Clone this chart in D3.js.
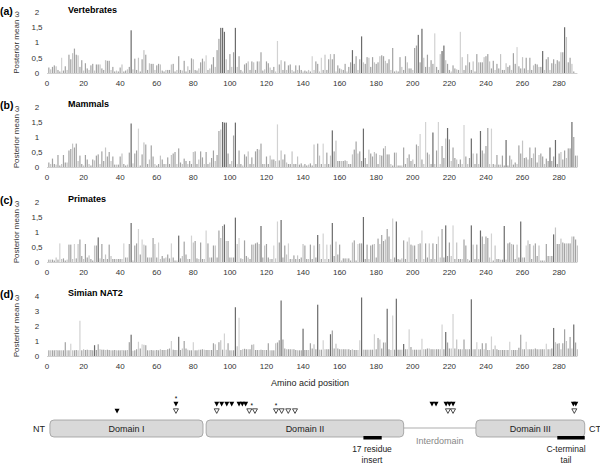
<!DOCTYPE html>
<html>
<head>
<meta charset="utf-8">
<script src="https://cdn.jsdelivr.net/npm/d3@7"></script>
<style>
  body { margin: 0; background: #fff; }
  text { font-family: Arial, "Liberation Sans", sans-serif; }
</style>
</head>
<body>
<div id="chart"></div>
<script>
// Posterior mean omega for amino acid positions 1..290, one list per lineage.
var vertebrates = [
  0.18, 0.12, 0.2, 0.25, 0.22, 0.1, 0.05, 0.5, 0.08, 0.22,
  0.1, 0.6, 0.45, 0.65, 0.8, 0.6, 0.58, 0.2, 0.42, 0.08,
  0.32, 0.15, 0.1, 0.25, 0.3, 0.08, 0.28, 0.28, 0.28, 0.15,
  0.1, 0.42, 0.4, 0.4, 0.1, 0.2, 0.05, 0.08, 0.05, 0.18,
  0.28, 0.05, 0.08, 0.12, 0.2, 1.4, 0.12, 0.47, 0.1, 0.5,
  0.05, 0.45, 0.75, 0.6, 0.1, 0.32, 0.3, 0.3, 0.1, 0.25,
  0.3, 0.28, 0.08, 0.05, 0.1, 0.1, 0.1, 0.28, 0.3, 0.05,
  0.1, 0.55, 0.1, 0.08, 0.4, 0.05, 0.22, 0.1, 0.48, 0.45,
  0.1, 0.08, 0.15, 0.35, 0.47, 0.38, 0.58, 0.1, 0.15, 0.28,
  0.52, 0.2, 0.75, 1.12, 1.48, 1.48, 1.35, 0.45, 0.1, 0.62,
  0.2, 0.68, 1.48, 0.2, 0.55, 0.1, 0.05, 0.28, 0.32, 0.38,
  0.1, 0.38, 0.35, 0.1, 0.38, 0.38, 0.68, 0.08, 0.12, 0.38,
  0.32, 0.18, 0.1, 0.2, 0.05, 1.05, 0.28, 0.42, 0.1, 0.38,
  0.1, 0.25, 0.28, 0.1, 0.05, 0.25, 0.1, 0.25, 0.1, 0.05,
  0.08, 0.05, 0.1, 0.05, 0.55, 0.1, 0.38, 0.3, 0.05, 0.5,
  0.1, 0.6, 0.1, 0.45, 0.62, 0.45, 0.62, 0.05, 0.25, 0.15,
  0.12, 0.1, 0.3, 0.05, 0.2, 0.35, 0.75, 0.3, 0.55, 0.1,
  0.45, 1.2, 0.35, 0.3, 0.52, 0.5, 0.2, 0.52, 0.35, 0.3,
  0.35, 0.55, 0.58, 0.55, 0.4, 0.32, 0.45, 0.1, 0.82, 0.05,
  0.08, 0.05, 0.52, 0.2, 0.1, 0.55, 0.35, 0.15, 0.15, 0.1,
  0.82, 0.9, 1.25, 0.35, 1.45, 0.5, 0.2, 0.6, 0.2, 0.42,
  0.3, 1.3, 0.2, 0.1, 0.62, 0.72, 0.9, 0.42, 0.3, 0.1,
  0.05, 0.25, 0.15, 0.12, 0.1, 1.35, 0.52, 0.1, 0.25, 0.62,
  0.35, 0.1, 0.38, 0.05, 0.62, 0.35, 0.35, 0.35, 0.52, 0.55,
  0.62, 0.38, 0.15, 0.4, 0.1, 0.3, 0.15, 0.62, 0.1, 0.1,
  0.32, 0.2, 0.25, 0.1, 0.65, 0.3, 0.85, 0.22, 0.15, 0.52,
  0.15, 0.5, 0.1, 0.5, 0.1, 0.25, 0.3, 0.28, 0.2, 0.2,
  0.72, 0.1, 0.45, 0.52, 0.1, 0.32, 0.45, 0.3, 0.42, 0.38,
  0.68, 0.68, 1.5, 1.18, 0.35, 0.5, 0.3, 0.05
];
var mammals = [
  0.15, 0.1, 0.28, 0.1, 0.08, 0.4, 0.05, 0.1, 0.4, 0.15,
  0.15, 0.55, 0.6, 0.78, 0.65, 0.78, 0.2, 0.38, 0.1, 0.05,
  0.4, 0.25, 0.1, 0.05, 0.25, 0.22, 0.38, 0.42, 0.1, 0.52,
  0.2, 0.65, 0.35, 0.5, 0.2, 0.35, 0.08, 0.08, 0.08, 0.35,
  0.45, 0.1, 0.05, 0.08, 0.48, 1.45, 0.12, 0.45, 0.55, 1.28,
  0.05, 0.42, 0.82, 0.75, 0.1, 0.25, 0.72, 0.35, 0.1, 0.05,
  0.1, 0.38, 0.25, 0.1, 0.1, 0.32, 0.1, 0.4, 0.45, 0.5,
  0.1, 0.62, 0.15, 0.1, 0.28, 0.2, 0.1, 0.2, 0.1, 0.5,
  0.52, 0.1, 0.25, 0.52, 0.32, 0.1, 0.5, 0.1, 0.15, 0.3,
  0.55, 0.2, 0.4, 1.2, 1.25, 1.5, 1.48, 1.48, 0.45, 0.1,
  0.2, 1.05, 1.48, 0.1, 0.55, 0.1, 0.05, 0.42, 0.35, 0.52,
  0.1, 0.32, 0.1, 0.52, 0.6, 0.58, 0.78, 0.1, 0.1, 0.35,
  0.1, 0.38, 0.25, 0.25, 0.2, 1.42, 0.22, 0.55, 0.25, 0.42,
  0.15, 0.1, 0.1, 0.52, 0.1, 0.1, 0.35, 0.08, 0.12, 0.05,
  0.1, 0.05, 0.08, 0.12, 0.05, 0.75, 0.1, 0.78, 0.38, 0.1,
  0.78, 0.1, 0.48, 0.1, 0.38, 1.22, 0.52, 0.88, 0.2, 0.2,
  0.2, 0.2, 0.22, 0.2, 0.1, 0.1, 0.42, 0.58, 0.85, 0.45,
  0.52, 0.2, 1.28, 0.3, 0.1, 0.58, 0.45, 0.35, 0.5, 0.45,
  0.1, 0.4, 0.38, 0.62, 0.7, 0.42, 0.42, 0.1, 0.05, 0.48,
  0.48, 0.05, 0.05, 0.05, 0.65, 0.1, 0.3, 0.42, 0.2, 0.25,
  0.1, 0.75, 0.7, 1.1, 0.25, 0.1, 1.5, 0.48, 0.42, 0.1,
  1.15, 0.1, 0.55, 1.5, 0.1, 0.7, 0.3, 0.95, 1.3, 0.92,
  0.2, 0.65, 0.3, 0.25, 0.1, 0.25, 0.1, 1.4, 0.35, 0.1,
  0.3, 0.95, 0.45, 0.1, 0.45, 0.1, 1.2, 0.55, 0.45, 0.7,
  1.3, 0.1, 1.28, 0.1, 0.08, 0.4, 0.08, 0.08, 0.38, 0.05,
  0.9, 0.05, 0.38, 0.25, 0.08, 0.15, 0.1, 0.72, 0.45, 0.88,
  0.3, 0.32, 0.25, 0.65, 0.3, 0.45, 0.65, 0.15, 0.4, 0.45,
  0.35, 0.1, 0.28, 0.2, 0.65, 0.2, 0.35, 0.9, 0.1, 0.45,
  0.5, 0.25, 0.55, 0.3, 0.62, 0.62, 1.5, 1.0, 0.38, 0.38
];
var primates = [
  0.08, 0.08, 0.08, 0.05, 0.15, 0.08, 0.62, 0.1, 0.12, 0.05,
  0.08, 0.58, 0.58, 0.1, 0.6, 0.12, 0.6, 0.75, 0.2, 0.1,
  0.6, 0.15, 0.22, 0.1, 0.05, 0.55, 0.55, 0.82, 0.12, 0.6,
  0.1, 0.25, 0.1, 0.58, 0.2, 0.1, 0.1, 0.1, 0.1, 0.1,
  0.1, 0.62, 0.15, 0.15, 0.6, 1.3, 0.05, 0.55, 0.62, 1.1,
  0.25, 0.75, 0.58, 0.55, 0.15, 0.15, 0.15, 0.8, 0.6, 0.15,
  0.65, 0.1, 0.2, 0.12, 0.15, 0.25, 0.12, 0.62, 0.15, 0.05,
  0.05, 0.88, 0.12, 0.2, 0.68, 0.25, 0.1, 0.1, 0.88, 0.65,
  0.7, 0.12, 0.1, 0.65, 0.1, 0.1, 1.05, 0.62, 0.15, 0.15,
  0.55, 0.55, 0.15, 1.05, 0.8, 1.2, 1.25, 0.7, 0.7, 0.15,
  0.15, 0.15, 1.48, 0.6, 0.8, 0.12, 0.1, 0.72, 0.2, 0.15,
  0.1, 0.58, 0.58, 0.62, 0.65, 0.6, 1.2, 0.15, 0.55, 0.6,
  0.15, 0.1, 0.1, 0.55, 0.12, 1.35, 0.65, 1.4, 0.15, 0.55,
  0.25, 0.62, 0.1, 0.1, 0.22, 0.1, 0.22, 0.1, 0.15, 0.6,
  0.55, 0.1, 0.1, 0.58, 0.1, 0.55, 0.15, 0.9, 0.6, 0.1,
  0.95, 0.1, 0.58, 0.1, 0.58, 1.3, 0.2, 0.68, 0.25, 0.58,
  0.05, 0.12, 0.12, 0.12, 0.12, 0.05, 0.65, 0.72, 0.05, 0.6,
  0.62, 0.62, 1.5, 0.1, 0.58, 0.1, 0.55, 0.58, 0.6, 0.15,
  0.78, 0.6, 0.9, 0.7, 0.75, 1.1, 0.85, 0.1, 1.45, 0.15,
  1.35, 0.1, 0.08, 0.12, 0.72, 0.1, 0.68, 0.82, 0.58, 0.55,
  0.55, 0.1, 0.6, 0.62, 1.05, 0.1, 0.62, 0.15, 0.62, 0.1,
  0.62, 0.1, 0.6, 0.85, 0.15, 1.1, 0.15, 1.22, 0.2, 0.65,
  0.2, 1.22, 0.1, 0.65, 0.1, 0.1, 0.1, 0.75, 0.55, 0.1,
  0.05, 1.22, 0.58, 0.1, 0.58, 0.1, 1.05, 0.85, 0.6, 0.85,
  0.8, 0.15, 0.95, 0.05, 0.55, 0.1, 0.1, 0.08, 0.08, 1.2,
  0.08, 0.62, 0.65, 0.6, 0.58, 0.1, 0.58, 0.15, 1.35, 0.15,
  0.15, 0.55, 0.72, 0.6, 0.1, 0.55, 0.62, 0.2, 0.55, 0.05,
  0.05, 0.05, 0.6, 0.2, 0.2, 0.2, 0.92, 1.15, 0.6, 0.6,
  0.78, 0.65, 0.62, 0.62, 0.62, 0.62, 0.85, 0.85, 0.75, 0.55
];
var simianNat2 = [
  0.38, 0.38, 0.38, 0.38, 0.4, 0.38, 0.38, 0.38, 0.38, 0.92,
  0.38, 0.38, 0.82, 0.38, 0.38, 0.4, 0.38, 2.35, 0.38, 0.45,
  0.4, 0.42, 0.4, 0.4, 0.38, 0.72, 0.4, 0.78, 0.45, 0.42,
  0.42, 0.4, 0.42, 0.4, 0.38, 0.38, 0.4, 0.38, 0.38, 0.38,
  0.4, 0.38, 0.38, 0.4, 0.92, 1.42, 0.35, 0.38, 0.45, 0.95,
  0.5, 0.78, 0.75, 0.72, 0.38, 0.38, 0.4, 0.38, 0.38, 0.4,
  0.38, 0.45, 0.4, 0.4, 0.4, 0.45, 0.5, 1.0, 0.42, 0.4,
  0.4, 1.28, 0.4, 0.5, 1.0, 0.5, 0.42, 0.38, 0.38, 0.92,
  0.38, 0.38, 0.42, 0.42, 0.45, 0.42, 0.4, 0.4, 0.4, 0.4,
  0.85, 0.78, 0.4, 0.92, 1.05, 0.42, 1.5, 0.42, 0.85, 0.38,
  0.38, 0.38, 3.25, 0.65, 2.55, 0.4, 0.45, 0.48, 0.45, 0.45,
  0.45, 0.75, 0.78, 0.4, 0.4, 0.4, 0.42, 0.4, 0.4, 0.4,
  0.85, 0.38, 0.38, 0.38, 0.85, 0.9, 1.05, 3.7, 1.1, 0.5,
  0.45, 0.45, 0.45, 0.45, 0.45, 0.4, 0.38, 0.38, 0.38, 1.82,
  0.4, 0.4, 0.4, 0.85, 0.5, 0.78, 0.45, 3.42, 0.42, 0.42,
  1.05, 0.45, 0.45, 0.45, 1.45, 1.7, 0.5, 0.82, 0.5, 0.45,
  0.45, 0.45, 0.45, 0.45, 0.45, 0.4, 0.45, 0.4, 0.4, 0.4,
  1.05, 3.9, 0.42, 0.42, 0.42, 0.42, 0.42, 0.42, 1.45, 0.45,
  1.2, 1.1, 0.5, 0.9, 0.9, 3.15, 0.45, 0.4, 2.7, 0.42,
  3.82, 0.42, 0.42, 0.42, 0.8, 0.45, 0.45, 1.78, 0.6, 0.42,
  0.42, 0.42, 0.42, 0.42, 1.15, 0.45, 0.45, 0.5, 0.5, 0.45,
  0.45, 0.45, 0.45, 0.45, 0.45, 2.1, 0.45, 1.6, 0.9, 0.5,
  0.5, 2.8, 0.5, 1.1, 0.45, 0.45, 0.45, 1.1, 0.45, 0.45,
  0.45, 3.78, 0.45, 0.45, 0.92, 0.45, 0.45, 0.85, 0.45, 0.85,
  0.4, 0.4, 1.3, 0.45, 0.7, 0.45, 0.4, 0.4, 0.4, 0.4,
  0.4, 0.4, 0.95, 0.4, 0.4, 0.4, 0.4, 0.55, 1.42, 0.45,
  0.45, 0.95, 0.45, 0.45, 0.45, 0.45, 0.5, 0.45, 0.45, 0.45,
  0.45, 0.45, 0.82, 0.45, 0.45, 0.5, 1.87, 0.92, 0.82, 0.85,
  0.45, 0.85, 1.78, 1.0, 0.5, 1.27, 0.5, 2.1, 0.9, 0.45
];

// positions drawn in dark or light grey (all others mid grey)
var darkA = [46, 95, 96, 97, 103, 167, 172, 203, 205, 216, 217, 271, 283];
var lightA = [8, 87, 126, 145, 150, 212, 226, 257];
var darkB = [46, 96, 97, 98, 103, 156, 173, 211, 219, 232, 237, 251, 275, 278, 287];
var lightB = [50, 126, 151, 204, 207, 214, 228, 243];
var darkC = [28, 46, 72, 97, 103, 117, 128, 148, 156, 173, 191, 218, 232, 237, 250, 259, 277];
var lightC = [7, 15, 42, 50, 52, 61, 68, 79, 87, 105, 124, 126, 132, 151, 153, 170, 189, 198, 205, 214, 222, 243, 262];
var darkD = [26, 46, 72, 103, 128, 140, 148, 155, 172, 186, 191, 195, 218, 232, 277, 288];
var lightD = [13, 18, 50, 52, 68, 80, 97, 105, 151, 171, 179, 189, 198, 205, 216, 222, 235, 243, 253, 262, 273];

var panelLetters = ["(a)", "(b)", "(c)", "(d)"];
var panelTitles = ["Vertebrates", "Mammals", "Primates", "Simian  NAT2"];
var yTicksOmega = [0, 0.5, 1, 1.5, 2];
var yTicksNat2 = [0, 1, 2, 3, 4];
var xTicks = [0, 20, 40, 60, 80, 100, 120, 140, 160, 180, 200, 220, 240, 260, 280];

// protein diagram (amino acid positions)
var domainNames = ["Domain I", "Domain II", "Domain III"];
var domainStart = [1.6, 87, 234.5];
var domainEnd = [85.3, 195, 294];
var interdomain = [195, 234.5];
var insertRegion = [173, 183];
var tailRegion = [279, 294];
var filledTop = [70.5, 92.8, 95.5, 98.3, 101, 105, 106.8, 108.6, 210.5, 212.7, 218.2, 220, 222, 287.8, 289.1];
var filledLow = [38.3];
var openLow = [70.5, 92.8, 110.6, 113.7, 125.2, 128.3, 131.9, 135.6, 219.2, 222, 288.3];
var starHigh = [70.5];
var starMid = [111.9, 125.2];

var W = 600, H = 465;
var svg = d3.select("#chart").append("svg")
  .attr("width", W).attr("height", H);

var x = d3.scaleLinear().domain([0, 290]).range([47, 47 + 290 * 1.829]);

var panels = [
  {values: vertebrates, dark: darkA, light: lightA, base: 73, h: 61, max: 2, ticks: yTicksOmega},
  {values: mammals, dark: darkB, light: lightB, base: 167, h: 60, max: 2, ticks: yTicksOmega},
  {values: primates, dark: darkC, light: lightC, base: 262, h: 60, max: 2, ticks: yTicksOmega},
  {values: simianNat2, dark: darkD, light: lightD, base: 356, h: 60, max: 4, ticks: yTicksNat2}
];

var fmt = function(d) { return String(d).replace(".", ","); };

panels.forEach(function(p, k) {
  var y = d3.scaleLinear().domain([0, p.max]).range([p.base, p.base - p.h]);
  var g = svg.append("g");

  var shade = function(d, i) {
    var pos = i + 1;
    if (p.dark.indexOf(pos) >= 0) return "#6b6b6b";
    if (p.light.indexOf(pos) >= 0) return "#d2d2d2";
    return (i % 3 === 1) ? "#c4c4c4" : "#a3a3a3";
  };

  g.selectAll("rect.bar")
    .data(p.values)
    .enter()
    .append("rect")
      .attr("class", "bar")
      .attr("x", function(d, i) { return x(i + 1) - 0.6; })
      .attr("y", function(d) { return y(d); })
      .attr("width", 1.2)
      .attr("height", function(d) { return p.base - y(d); })
      .attr("fill", shade);

  // baseline
  g.append("line")
    .attr("x1", x(0)).attr("x2", x(290))
    .attr("y1", p.base + 0.5).attr("y2", p.base + 0.5)
    .attr("stroke", "#d0d0d0").attr("stroke-width", 1);

  // y tick labels
  g.selectAll("text.ytick")
    .data(p.ticks)
    .enter()
    .append("text")
      .attr("class", "ytick")
      .attr("x", 37)
      .attr("y", function(d) { return y(d); })
      .attr("dy", "0.35em")
      .attr("text-anchor", "middle")
      .attr("font-size", 8)
      .attr("fill", "#333")
      .text(fmt);

  // x tick labels
  g.selectAll("text.xtick")
    .data(xTicks)
    .enter()
    .append("text")
      .attr("class", "xtick")
      .attr("x", function(d) { return x(d); })
      .attr("y", p.base + 13)
      .attr("text-anchor", "middle")
      .attr("font-size", 8)
      .attr("fill", "#333")
      .text(function(d) { return d; });

  g.append("text")
    .attr("transform", "translate(19," + (p.base - p.h / 2) + ") rotate(-90)")
    .attr("text-anchor", "middle")
    .attr("font-size", 8)
    .attr("fill", "#333")
    .text("Posterior mean ω");

  g.append("text")
    .attr("x", 0).attr("y", p.base - 58)
    .attr("font-size", 10.5).attr("font-weight", "bold")
    .text(panelLetters[k]);

  g.append("text")
    .attr("x", 68).attr("y", p.base - 60)
    .attr("font-size", 9).attr("font-weight", "bold")
    .text(panelTitles[k]);
});

svg.append("text")
  .attr("x", 310).attr("y", 386)
  .attr("text-anchor", "middle")
  .attr("font-size", 9)
  .attr("fill", "#222")
  .text("Amino acid position");

// ---- protein domain diagram ----
var dg = svg.append("g");

dg.append("line")
  .attr("x1", x(interdomain[0])).attr("x2", x(interdomain[1]))
  .attr("y1", 428).attr("y2", 428)
  .attr("stroke", "#c8c8c8").attr("stroke-width", 1.5);

dg.selectAll("rect.domain")
  .data(domainNames)
  .enter()
  .append("rect")
    .attr("class", "domain")
    .attr("x", function(d, i) { return x(domainStart[i]); })
    .attr("y", 420)
    .attr("width", function(d, i) { return x(domainEnd[i]) - x(domainStart[i]); })
    .attr("height", 17)
    .attr("rx", 4)
    .attr("fill", "#d9d9d9")
    .attr("stroke", "#9a9a9a")
    .attr("stroke-width", 0.8);

dg.selectAll("text.domain")
  .data(domainNames)
  .enter()
  .append("text")
    .attr("class", "domain")
    .attr("x", function(d, i) { return (x(domainStart[i]) + x(domainEnd[i])) / 2; })
    .attr("y", 431.5)
    .attr("text-anchor", "middle")
    .attr("font-size", 9)
    .attr("fill", "#222")
    .text(function(d) { return d; });

dg.append("text").attr("x", 33).attr("y", 431.5)
  .attr("font-size", 9).attr("fill", "#222").text("NT");
dg.append("text").attr("x", 589).attr("y", 431.5)
  .attr("font-size", 9).attr("fill", "#222").text("CT");

dg.append("text")
  .attr("x", x((interdomain[0] + interdomain[1]) / 2)).attr("y", 444)
  .attr("text-anchor", "middle")
  .attr("font-size", 9).attr("fill", "#888")
  .text("Interdomain");

[insertRegion, tailRegion].forEach(function(r) {
  dg.append("rect")
    .attr("x", x(r[0])).attr("y", 436)
    .attr("width", x(r[1]) - x(r[0])).attr("height", 3.5)
    .attr("fill", "#000");
});

var regionLabels = [["17 residue", "insert"], ["C-terminal", "tail"]];
var regionCentres = [372, 566];
regionLabels.forEach(function(lines, i) {
  lines.forEach(function(t, j) {
    dg.append("text")
      .attr("x", regionCentres[i]).attr("y", 452 + j * 10.5)
      .attr("text-anchor", "middle")
      .attr("font-size", 8.5).attr("fill", "#222")
      .text(t);
  });
});

var tri = "M-2.5,-2.2L2.5,-2.2L0,2.4Z";

dg.selectAll("path.ftop")
  .data(filledTop)
  .enter()
  .append("path")
    .attr("class", "ftop")
    .attr("d", tri)
    .attr("transform", function(d) { return "translate(" + x(d) + ",404)"; })
    .attr("fill", "#000");

dg.selectAll("path.flow")
  .data(filledLow)
  .enter()
  .append("path")
    .attr("class", "flow")
    .attr("d", tri)
    .attr("transform", function(d) { return "translate(" + x(d) + ",411)"; })
    .attr("fill", "#000");

dg.selectAll("path.olow")
  .data(openLow)
  .enter()
  .append("path")
    .attr("class", "olow")
    .attr("d", tri)
    .attr("transform", function(d) { return "translate(" + x(d) + ",411)"; })
    .attr("fill", "#fff")
    .attr("stroke", "#000")
    .attr("stroke-width", 0.7);

dg.selectAll("text.shigh")
  .data(starHigh)
  .enter()
  .append("text")
    .attr("class", "shigh")
    .attr("x", function(d) { return x(d); })
    .attr("y", 401)
    .attr("text-anchor", "middle")
    .attr("font-size", 6.5)
    .text("*");

dg.selectAll("text.smid")
  .data(starMid)
  .enter()
  .append("text")
    .attr("class", "smid")
    .attr("x", function(d) { return x(d); })
    .attr("y", 407.5)
    .attr("text-anchor", "middle")
    .attr("font-size", 6.5)
    .text("*");
</script>
</body>
</html>
